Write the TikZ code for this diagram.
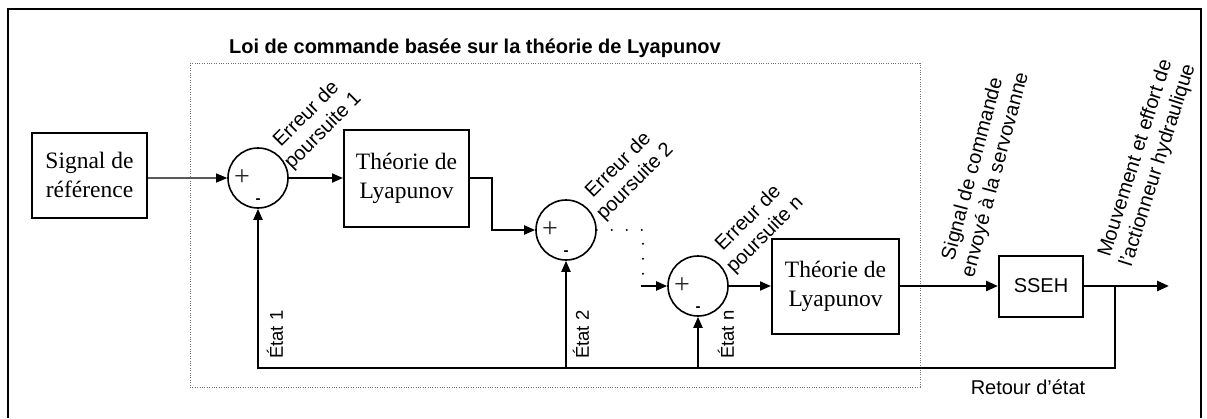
\documentclass[tikz,border=0pt]{standalone}
\usepackage{fontspec}
\setmainfont{Liberation Serif}
\setsansfont{Liberation Sans}
\usetikzlibrary{arrows.meta}
\newcommand\serifbig{\fontsize{23.5}{29}\selectfont}
\newcommand\lblfont{\sffamily\fontsize{20}{23.5}\selectfont}
\newcommand\statefont{\sffamily\fontsize{18.5}{22}\selectfont}
\newcommand\titlefont{\sffamily\bfseries\fontsize{20}{24}\selectfont}
\tikzset{
  blk/.style={draw, line width=2pt, inner sep=0pt, align=center, font=\serifbig},
  sumc/.style={draw, circle, line width=1.6pt, minimum size=60pt, inner sep=0pt},
  conn/.style={line width=2pt},
  arr/.style={conn, -{Triangle[length=11pt,width=9pt]}},
  thinarr/.style={line width=1.1pt, black!65, -{Triangle[length=11pt,width=9pt,color=black]}},
  fatarr/.style={line width=2.6pt, -{Triangle[length=12pt,width=10pt]}},
  dots/.style={line width=2.2pt, line cap=round, dash pattern=on 0pt off 15pt},
  dotbox/.style={line width=1pt, black!55, dash pattern=on 1pt off 1.4pt},
  lbl/.style={font=\lblfont, align=center, inner sep=0pt},
  statelbl/.style={font=\statefont, inner sep=0pt, rotate=90, anchor=west},
  plussign/.style={font=\fontsize{28}{28}\selectfont, text=black!85, inner sep=0pt},
  minussign/.style={font=\sffamily\bfseries\fontsize{15}{15}\selectfont, inner sep=0pt},
}
\begin{document}
\begin{tikzpicture}[x=1pt,y=-1pt]
\useasboundingbox (0,0) rectangle (1207,418);
% outer frame (bottom edge outside the picture)
\draw[line width=2.5pt] (8,418) -- (8,9) -- (1201,9) -- (1201,418);
% dotted controller box and its title
\draw[dotbox] (190,63) rectangle (920,387);
\node[font=\titlefont, anchor=base west, inner sep=0pt] (title) at (229,53)
  {Loi de commande basée sur la théorie de Lyapunov};

% blocks
\node[blk, minimum width=115pt, minimum height=85pt] (sig) at (89.5,175) {Signal de\\référence};
\node[sumc] (s1) at (258,178) {};
\node[blk, minimum width=125pt, minimum height=97pt] (b1) at (406.5,178) {Théorie de\\Lyapunov};
\node[sumc] (s2) at (566,230) {};
\node[sumc] (s3) at (698,286) {};
\node[blk, minimum width=127pt, minimum height=95pt] (b3) at (835.5,286) {Théorie de\\Lyapunov};
\node[draw, line width=2pt, minimum width=84pt, minimum height=61pt, inner sep=0pt,
      font=\sffamily\fontsize{20}{24}\selectfont] (sseh) at (1041,286) {SSEH};

% signs in the summing junctions
\node[plussign] (p1) at ([xshift=-16pt]s1.center) {+};
\node[minussign] (m1) at ([yshift=-23pt]s1.center) {-};
\node[plussign] (p2) at ([xshift=-16pt]s2.center) {+};
\node[minussign] (m2) at ([yshift=-23pt]s2.center) {-};
\node[plussign] (p3) at ([xshift=-16pt]s3.center) {+};
\node[minussign] (m3) at ([yshift=-23pt]s3.center) {-};

% helper coordinates
\coordinate (k1) at (492,178);
\coordinate (d1) at (643,230);
\coordinate (d2) at (643,274);
\coordinate (a3) at (641,286);
\coordinate (tap) at (1115,286);
\coordinate (fb) at (1115,368);
\coordinate (out) at (1169,286);

% forward path
\draw[thinarr] (sig.east |- s1.west) -- (s1.west);
\draw[arr] (s1.east) -- (b1.west);
\draw[arr] (b1.east) -- (k1) |- (s2.west);
\draw[dots] (s2.east) -- (d1) -- (d2);
\draw[arr] (a3) -- (s3.west);
\draw[arr] (s3.east) -- (b3.west);
\draw[fatarr] (b3.east) -- (sseh.west);
\draw[fatarr] (sseh.east) -- (out);

% state feedback
\draw[arr] (tap) -- (fb) -| (s1.south);
\draw[arr] (s2.south |- fb) -- (s2.south);
\draw[arr] (s3.south |- fb) -- (s3.south);

% labels
\node[lbl, rotate=45] (e1) at (315,123) {Erreur de\\poursuite 1};
\node[lbl, rotate=45] (e2) at (627,174) {Erreur de\\poursuite 2};
\node[lbl, rotate=45] (en) at (757,227) {Erreur de\\poursuite n};
\node[statelbl] (t1) at (275,359) {État 1};
\node[statelbl] (t2) at (581,359) {État 2};
\node[statelbl] (tn) at (726,359) {État n};
\node[lbl, rotate=75] (cmd) at (984.5,172) {Signal de commande\\envoyé à la servovanne};
\node[lbl, rotate=72.5] (mvt) at (1147,162) {Mouvement et effort de\\l'actionneur hydraulique};
\node[lbl, font=\sffamily\fontsize{20}{24}\selectfont] (ret) at (1028,387) {Retour d'état};
\end{tikzpicture}
\end{document}
